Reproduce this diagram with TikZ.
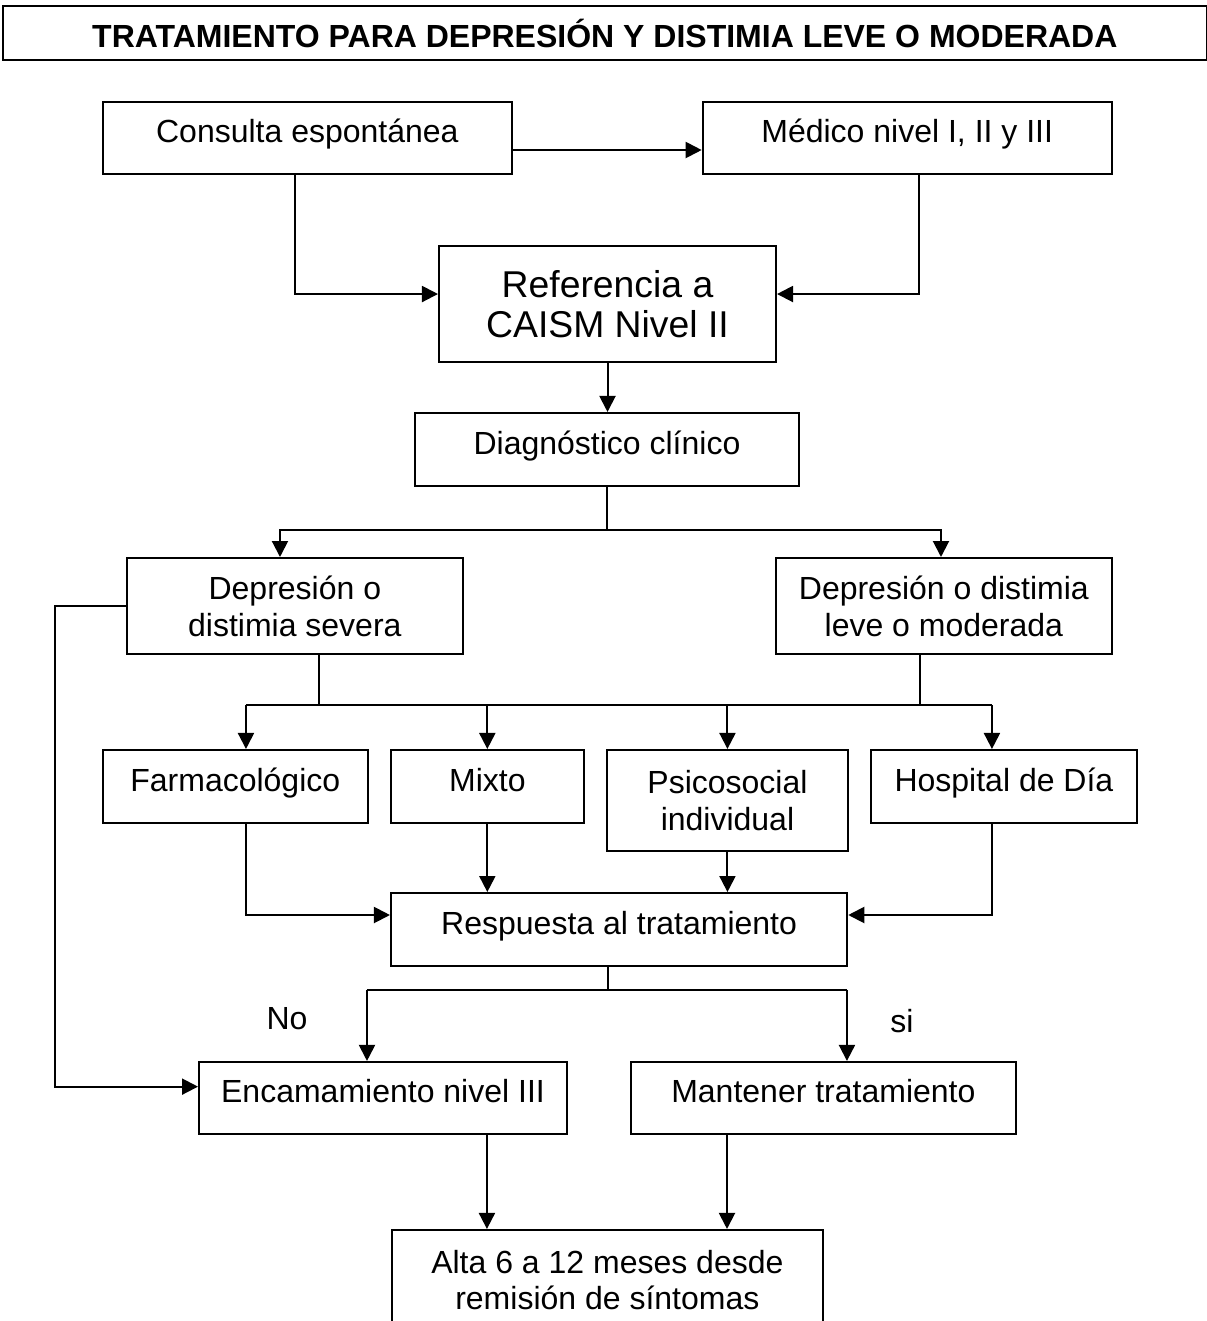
\documentclass[tikz,border=0pt]{standalone}
\usepackage{fontspec}
\setmainfont{Liberation Sans}
\usetikzlibrary{arrows.meta}

\tikzset{
	caja/.style={draw, line width=0.75pt, inner sep=0pt, align=center, font=\fontsize{12}{13.8}\selectfont},
	linea/.style={caja, text height=8.6pt, text depth=5pt},
	flecha/.style={line width=0.75pt, -{Triangle[length=6pt,width=6pt]}},
	raya/.style={line width=0.75pt}
}

\begin{document}
\begin{tikzpicture}

		\useasboundingbox (0,0) rectangle (15.908,-17.411);
		\clip (0,0) rectangle (15.908,-17.411);

				\node[caja, font=\fontsize{12}{14}\selectfont\bfseries, minimum width=15.865cm, minimum height=0.712cm]
						(titulo)	at (7.972,-0.435)	{TRATAMIENTO PARA DEPRESIÓN Y DISTIMIA LEVE O MODERADA};

	  			\node[linea, minimum width=5.387cm, minimum height=0.949cm]	(consulta)		at (4.051,-1.819)		{Consulta espontánea};
				\node[linea, minimum width=5.391cm, minimum height=0.949cm]	(medico)		at (11.957,-1.819)		{Médico nivel I, II y III};
				\node[caja, font=\fontsize{14}{15}\selectfont, minimum width=4.442cm, minimum height=1.529cm]
											(referencia)	at (8.007,-4.007)		{Referencia a\\CAISM Nivel II};
				\node[linea, minimum width=5.061cm, minimum height=0.962cm]	(diagnostico)	at (8.000,-5.924)		{Diagnóstico clínico};
				\node[caja, minimum width=4.432cm, minimum height=1.265cm]	(severa)		at (3.886,-7.987)		{Depresión o\\distimia severa};
				\node[caja, minimum width=4.424cm, minimum height=1.265cm]	(leve)			at (12.440,-7.987)		{Depresión o distimia\\leve o moderada};

				\node[linea, minimum width=3.486cm, minimum height=0.962cm]	(farmaco)		at (3.101,-10.366)		{Farmacológico};
				\node[linea, minimum width=2.538cm, minimum height=0.962cm]	(mixto)			at (6.423,-10.366)		{Mixto};
				\node[caja, minimum width=3.176cm, minimum height=1.331cm]	(psico)			at (9.588,-10.550)		{Psicosocial\\individual};
				\node[linea, minimum width=3.506cm, minimum height=0.962cm]	(hospital)		at (13.232,-10.366)		{Hospital de Día};

				\node[linea, minimum width=6.014cm, minimum height=0.962cm]	(respuesta)		at (8.160,-12.251)		{Respuesta al tratamiento};
				\node[linea, minimum width=4.850cm, minimum height=0.949cm]	(encamamiento)	at (5.048,-14.471)		{Encamamiento nivel III};
				\node[linea, minimum width=5.070cm, minimum height=0.949cm]	(mantener)		at (10.852,-14.471)		{Mantener tratamiento};
				\node[caja, minimum width=5.684cm, minimum height=1.318cm]	(alta)			at (8.005,-16.870)		{Alta 6 a 12 meses desde\\remisión de síntomas};

				\node[font=\fontsize{12}{13.8}\selectfont]	(no)	at (3.783,-13.430)	{No};
				\node[font=\fontsize{12}{13.8}\selectfont]	(si)	at (11.888,-13.457)	{si};

				\coordinate (rama1)		at (8.000,-6.985);
				\coordinate (borde)		at (0.725,0);
				\coordinate (rama2a)	at (3.242,-9.292);
				\coordinate (rama2b)	at (13.074,-9.292);
				\coordinate (rama3)		at (8.009,-13.048);
				\coordinate (rama3a)	at (4.837,-13.048);
				\coordinate (rama3b)	at (11.163,-13.048);
				\coordinate (baja1)		at (6.418,0);
				\coordinate (baja2)		at (9.582,0);

				% ingreso
				\draw[flecha] ([yshift=-4.5pt]consulta.east) -- ([yshift=-4.5pt]medico.west);
				\draw[flecha] ([xshift=-4.6pt]consulta.south) |- ([yshift=3.75pt]referencia.west);
				\draw[flecha] ([xshift=4.4pt]medico.south) |- ([yshift=3.75pt]referencia.east);
				\path[flecha]
				(referencia.south) edge (referencia.south |- diagnostico.north);

				% diagnostico
				\draw[raya] (diagnostico.south) -- (rama1);
				\draw[flecha] (rama1) -| ([xshift=-5.57pt]severa.north);
				\draw[flecha] (rama1) -| ([xshift=-1.07pt]leve.north);
				\draw[flecha] (severa.west) -- (severa.west -| borde) |- ([yshift=4.24pt]encamamiento.west);

				% tratamientos
				\draw[raya] ([xshift=9.06pt]severa.south) |- (rama2a);
				\draw[raya] ([xshift=-8.94pt]leve.south) |- (rama2b);
				\draw[raya] (rama2a) -- (rama2b);
				\path[flecha]
				(rama2a) edge (rama2a |- farmaco.north)
				(mixto.north |- rama2a) edge (mixto.north)
				(psico.north |- rama2a) edge (psico.north)
				(rama2b) edge (rama2b |- hospital.north);

				% respuesta
				\draw[flecha] ([xshift=4.03pt]farmaco.south) |- ([yshift=5.44pt]respuesta.west);
				\draw[flecha] ([xshift=-4.5pt]hospital.south) |- ([yshift=5.44pt]respuesta.east);
				\path[flecha]
				(mixto.south) edge (mixto.south |- respuesta.north)
				(psico.south) edge (psico.south |- respuesta.north);

				\draw[raya] (respuesta.south -| rama3) -- (rama3);
				\draw[raya] (rama3a) -- (rama3b);
				\path[flecha]
				(rama3a) edge (rama3a |- encamamiento.north)
				(rama3b) edge (rama3b |- mantener.north)
				(encamamiento.south -| baja1) edge (alta.north -| baja1)
				(mantener.south -| baja2) edge (alta.north -| baja2);

\end{tikzpicture}
\end{document}
